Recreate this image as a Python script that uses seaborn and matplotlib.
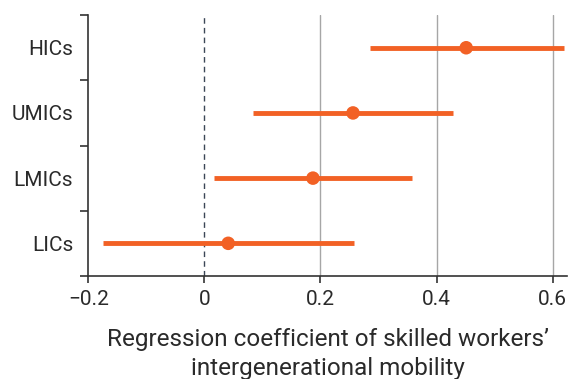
import pandas as pd
import matplotlib.pyplot as plt
import seaborn as sns
from matplotlib.ticker import FixedLocator

# income groups, point estimates and confidence intervals
groups = ['HICs', 'UMICs', 'LMICs', 'LICs']
coef = [0.451, 0.256, 0.187, 0.041]
ci_low = [0.286, 0.083, 0.017, -0.174]
ci_high = [0.619, 0.429, 0.358, 0.258]
xticks = [-0.2, 0, 0.2, 0.4, 0.6]
xticklabels = ['\u22120.2', '0', '0.2', '0.4', '0.6']

df = pd.DataFrame({'group': groups, 'coef': coef, 'lo': ci_low, 'hi': ci_high})

sns.set_style('white')
plt.rcParams['font.family'] = ['Roboto', 'DejaVu Sans']
orange = '#F26125'
dark = '#333333'

fig = plt.figure(figsize=(5.7, 3.79), dpi=100)
ax = fig.add_axes([0.155, 0.272, 0.840, 0.688])

# grid lines and zero reference
for x in [0.2, 0.4, 0.6]:
    ax.axvline(x, color='#a6a6a6', lw=1.0, zorder=0)
ax.axvline(0, color='#3b4656', lw=1.0, ls=(0, (4, 3)), zorder=1)

# intervals
ax.hlines(y=df['group'], xmin=df['lo'], xmax=df['hi'], color=orange, lw=3.5, zorder=2)
# point estimates
sns.scatterplot(data=df, x='coef', y='group', color=orange, s=95, edgecolor='none',
                zorder=3, ax=ax, legend=False)

ax.set_ylim(3.5, -0.5)
ax.set_xlim(-0.2, 0.625)
ax.set_xticks(xticks)
ax.set_xticklabels(xticklabels)
ax.yaxis.set_minor_locator(FixedLocator([-0.5, 0.5, 1.5, 2.5, 3.5]))
ax.tick_params(axis='y', which='major', length=0, labelsize=15, labelcolor='#2a2a2a', pad=11)
ax.tick_params(axis='y', which='minor', left=True, length=6, width=1.2, color=dark)
ax.tick_params(axis='x', which='major', bottom=True, length=5, width=1.2, color=dark,
               labelsize=15, labelcolor='#2a2a2a', pad=5)

for side in ['top', 'right']:
    ax.spines[side].set_visible(False)
for side in ['left', 'bottom']:
    ax.spines[side].set_color(dark)
    ax.spines[side].set_linewidth(1.2)

ax.set_ylabel('')
ax.set_xlabel('Regression coefficient of skilled workers\u2019\nintergenerational mobility',
              fontsize=17.5, color='#2a2a2a', labelpad=14, linespacing=1.3)

fig.savefig('out.png', dpi=100)
